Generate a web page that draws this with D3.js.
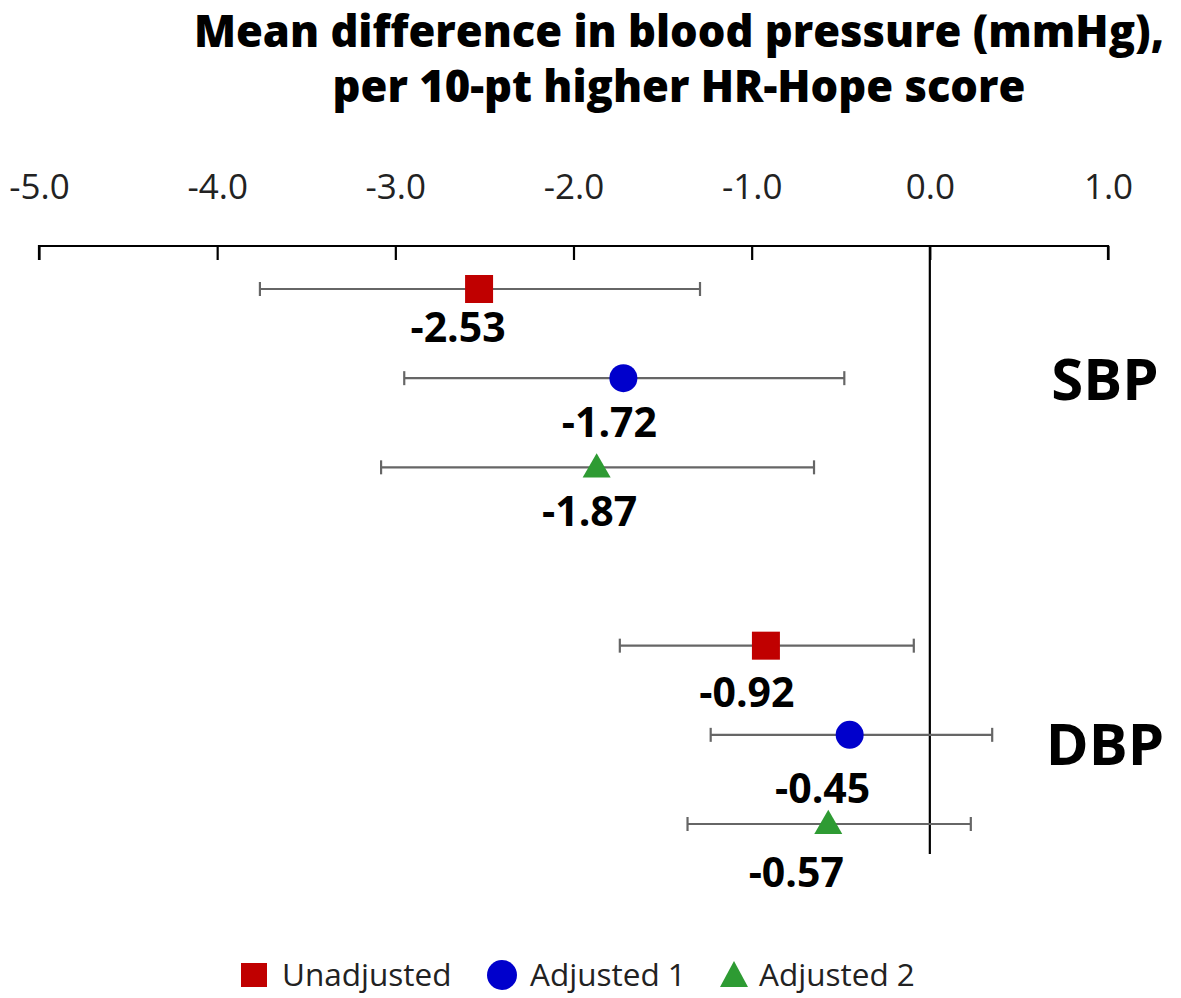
<!DOCTYPE html>
<html>
<head>
<meta charset="utf-8">
<script src="https://cdn.jsdelivr.net/npm/d3@7"></script>
<style>
  html, body { margin: 0; padding: 0; background: #fff; }
  svg { display: block; }
  text { font-family: "Open Sans", "Noto Sans", sans-serif; }
</style>
</head>
<body>
<svg id="chart" width="1181" height="998"></svg>
<script>
// ---- data ----
const groups = ["SBP", "DBP"];
const seriesNames = ["Unadjusted", "Adjusted 1", "Adjusted 2"];
const estimates = [[-2.53, -1.72, -1.87], [-0.92, -0.45, -0.57]];
const lowerCI = [[-3.76, -2.95, -3.08], [-1.74, -1.23, -1.36]];
const upperCI = [[-1.29, -0.48, -0.65], [-0.09, 0.35, 0.23]];
const tickValues = [-5, -4, -3, -2, -1, 0, 1];
const titleLines = ["Mean difference in blood pressure (mmHg),", "per 10-pt higher HR-Hope score"];

// ---- layout / style ----
const colors = ["#C00000", "#0000CC", "#2E9B33"];
const symbols = [d3.symbolSquare, d3.symbolCircle, d3.symbolTriangle];
const symbolSizes = [28 * 28, Math.PI * 14 * 14, 340];
const labelOffsets = [[[-21, 53], [-14, 59], [-7, 59]], [[-19, 61], [-27, 68], [-32, 63]]];

const svg = d3.select("#chart");
const x = d3.scaleLinear().domain([-5, 1]).range([39, 1108]);
const y = d3.scaleLinear().domain([0, 6]).range([289, 824]);
const axisY = 246;

// title
svg.append("g").selectAll("text").data(titleLines).join("text")
  .attr("x", 679).attr("y", (d, i) => 47 + i * 55)
  .attr("text-anchor", "middle")
  .attr("font-size", 43.5).attr("font-weight", 800).attr("fill", "#000")
  .text(d => d);

// axis
const axis = d3.axisBottom(x).tickValues(tickValues).tickSize(14).tickFormat(d3.format(".1f"));
const gAxis = svg.append("g").attr("transform", `translate(0,${axisY})`).call(axis);
gAxis.select(".domain").attr("d", `M${x(-5)},14V0H${x(1)}V14`).attr("stroke", "#000").attr("stroke-width", 2.2);
gAxis.selectAll(".tick line").attr("stroke", "#000").attr("stroke-width", 2.2);
gAxis.selectAll(".tick text").attr("y", -47).attr("dy", 0)
  .attr("font-size", 35).attr("fill", "#222").attr("font-family", "'Open Sans', sans-serif");
gAxis.selectAll(".tick text").text(d => d3.format(".1f")(d).replace("−", "-"));

// zero line
svg.append("line")
  .attr("x1", x(0)).attr("x2", x(0)).attr("y1", axisY).attr("y2", 854)
  .attr("stroke", "#000").attr("stroke-width", 2.2);

// rows
const rows = [];
groups.forEach((g, gi) => {
  seriesNames.forEach((s, si) => {
    rows.push({ gi, si, row: gi * 4 + si, est: estimates[gi][si], lo: lowerCI[gi][si], hi: upperCI[gi][si] });
  });
});

const gRows = svg.append("g").selectAll("g").data(rows).join("g");
gRows.append("line")
  .attr("x1", d => x(d.lo)).attr("x2", d => x(d.hi))
  .attr("y1", d => y(d.row)).attr("y2", d => y(d.row))
  .attr("stroke", "#666").attr("stroke-width", 2.2);
["lo", "hi"].forEach(k => {
  gRows.append("line")
    .attr("x1", d => x(d[k])).attr("x2", d => x(d[k]))
    .attr("y1", d => y(d.row) - 7).attr("y2", d => y(d.row) + 7)
    .attr("stroke", "#666").attr("stroke-width", 2.2);
});
gRows.append("path")
  .attr("transform", d => `translate(${x(d.est)},${y(d.row) + (d.si === 2 ? 2 : 0)})`)
  .attr("d", d => d3.symbol().type(symbols[d.si]).size(symbolSizes[d.si])())
  .attr("fill", d => colors[d.si]);
gRows.append("text")
  .attr("x", d => x(d.est) + labelOffsets[d.gi][d.si][0])
  .attr("y", d => y(d.row) + labelOffsets[d.gi][d.si][1])
  .attr("text-anchor", "middle")
  .attr("font-size", 41).attr("font-weight", 700).attr("fill", "#000")
  .text(d => d.est.toFixed(2));

// group labels
svg.append("g").selectAll("text").data(groups).join("text")
  .attr("x", 1105).attr("y", (d, i) => y(i * 4 + 1) + 22 + i * 8)
  .attr("text-anchor", "middle")
  .attr("font-size", 58).attr("font-weight", 700).attr("fill", "#000")
  .text(d => d);

// legend
const legendX = [254, 502, 734];
const lg = svg.append("g").selectAll("g").data(seriesNames).join("g")
  .attr("transform", (d, i) => `translate(${legendX[i]},975)`);
lg.each(function (d, i) {
  const g = d3.select(this);
  if (i === 0) {
    g.append("rect").attr("x", -13).attr("y", -12).attr("width", 26).attr("height", 24).attr("fill", colors[0]);
  } else if (i === 1) {
    g.append("circle").attr("r", 15).attr("fill", colors[1]);
  } else {
    g.append("path").attr("d", "M0,-14L14,12L-14,12Z").attr("fill", colors[2]);
  }
});
lg.append("text")
  .attr("x", (d, i) => i === 2 ? 25 : 28).attr("y", 11)
  .attr("font-size", 31.5).attr("fill", "#222")
  .text(d => d);
</script>
</body>
</html>
